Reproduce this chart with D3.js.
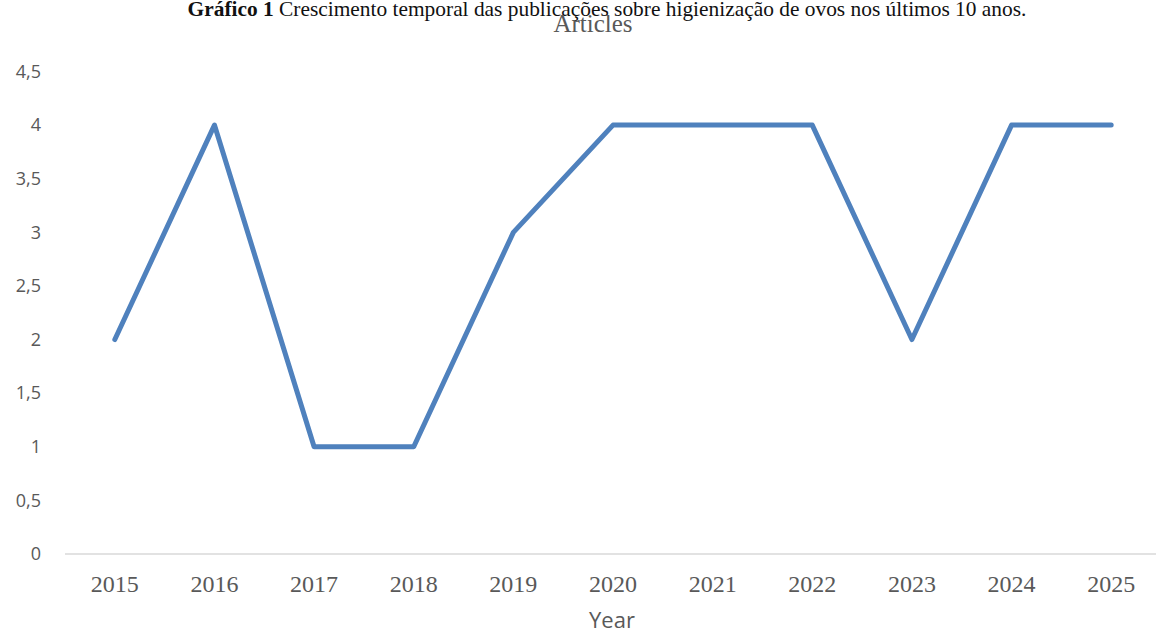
<!DOCTYPE html>
<html>
<head>
<meta charset="utf-8">
<script src="https://cdn.jsdelivr.net/npm/d3@7"></script>
<style>
  html, body { margin: 0; padding: 0; background: #fff; }
  svg { display: block; }
</style>
</head>
<body>
<svg id="chart" width="1156" height="633"></svg>
<script>
// Publications per year
const years = ["2015", "2016", "2017", "2018", "2019", "2020", "2021", "2022", "2023", "2024", "2025"];
const articles = [2, 4, 1, 1, 3, 4, 4, 4, 2, 4, 4];
const yTicks = [0, 0.5, 1, 1.5, 2, 2.5, 3, 3.5, 4, 4.5];

const svg = d3.select("#chart");
const W = 1156, H = 633;

const x = d3.scaleBand().domain(years).range([65, 1161]);
const y = d3.scaleLinear().domain([0, 4.5]).range([554, 71.5]);

// Figure caption
const cap = svg.append("text")
  .attr("x", 607).attr("y", 16)
  .attr("text-anchor", "middle")
  .attr("font-family", "Liberation Serif, Times New Roman, serif")
  .attr("font-size", 21.4)
  .attr("fill", "#111");
cap.append("tspan").attr("font-weight", "bold").text("Gráfico 1 ");
cap.append("tspan").text("Crescimento temporal das publicações sobre higienização de ovos nos últimos 10 anos.");

// Chart title
svg.append("text")
  .attr("x", 593).attr("y", 32)
  .attr("text-anchor", "middle")
  .attr("font-family", "Liberation Serif, Times New Roman, serif")
  .attr("font-size", 25)
  .attr("fill", "#595959")
  .text("Articles");

// Y axis labels
const fmt = d => String(d).replace(".", ",");
svg.append("g")
  .selectAll("text")
  .data(yTicks)
  .join("text")
  .attr("x", 41)
  .attr("y", d => y(d))
  .attr("dy", "0.35em")
  .attr("text-anchor", "end")
  .attr("font-family", "Open Sans, Noto Sans, sans-serif")
  .attr("font-size", 18)
  .attr("fill", "#595959")
  .text(fmt);

// X axis baseline
svg.append("line")
  .attr("x1", 65).attr("x2", W)
  .attr("y1", y(0)).attr("y2", y(0))
  .attr("stroke", "#d9d9d9")
  .attr("stroke-width", 1.3);

// X axis labels
const cx = d => x(d) + x.bandwidth() / 2;
svg.append("g")
  .selectAll("text")
  .data(years)
  .join("text")
  .attr("x", cx)
  .attr("y", 592)
  .attr("text-anchor", "middle")
  .attr("font-family", "Liberation Serif, Times New Roman, serif")
  .attr("font-size", 24)
  .attr("fill", "#595959")
  .text(d => d);

// X axis title
svg.append("text")
  .attr("x", 612).attr("y", 628)
  .attr("text-anchor", "middle")
  .attr("font-family", "Open Sans, Noto Sans, sans-serif")
  .attr("font-size", 22)
  .attr("fill", "#595959")
  .text("Year");

// Data line
const line = d3.line()
  .x((d, i) => cx(years[i]))
  .y(d => y(d));

svg.append("path")
  .datum(articles)
  .attr("d", line)
  .attr("fill", "none")
  .attr("stroke", "#4f81bd")
  .attr("stroke-width", 5)
  .attr("stroke-linejoin", "round")
  .attr("stroke-linecap", "round");
</script>
</body>
</html>
